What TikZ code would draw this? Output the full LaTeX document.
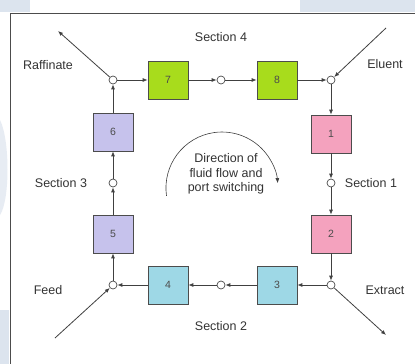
\documentclass[tikz,border=0pt]{standalone}
\usepackage{fontspec}
\setmainfont{Liberation Sans}
\usetikzlibrary{arrows.meta}
\definecolor{cgreen}{HTML}{A8DC1C}
\definecolor{cpink}{HTML}{F4A2BE}
\definecolor{cpurple}{HTML}{C6C2EC}
\definecolor{ccyan}{HTML}{9ED8E6}
\definecolor{wmark}{HTML}{DCE4EE}
\begin{document}
\begin{tikzpicture}[x=1pt,y=-1pt,
  colbox/.style={draw=black!70, line width=0.7pt, minimum width=40pt, minimum height=38pt, inner sep=0pt,
    font=\fontsize{10.5}{12}\selectfont, text=black!70},
  port/.style={circle, draw=black!70, line width=0.7pt, fill=white, inner sep=0pt, minimum size=8pt},
  flow/.style={-{Latex[length=5pt,width=4pt]}, draw=black!75, line width=0.8pt},
  lbl/.style={font=\fontsize{12.5}{14}\selectfont, text=black!80, inner sep=0pt}]
\useasboundingbox (0,0) rectangle (415,364);
\fill[white] (0,0) rectangle (415,364);
% watermark patches outside frame
\fill[wmark] (300,0) rectangle (415,12);
\fill[wmark] (0,0) rectangle (30,12);
\fill[wmark!70] (0,120) .. controls (10,140) and (10,200) .. (0,215) -- cycle;
\fill[wmark] (0,310) rectangle (9,364);
% frame
\draw[black!70, line width=1.3pt] (10.5,364) -- (10.5,13.5) -- (415,13.5);

% ports
\node[port] (pTL) at (113,80) {};
\node[port] (pT)  at (221,80) {};
\node[port] (pTR) at (331,80) {};
\node[port] (pL)  at (113,183) {};
\node[port] (pR)  at (331,183) {};
\node[port] (pBL) at (113,285) {};
\node[port] (pB)  at (221,285) {};
\node[port] (pBR) at (331,285) {};

% columns
\node[colbox, fill=cgreen]  (b7) at (168,80)  {7};
\node[colbox, fill=cgreen]  (b8) at (277,80)  {8};
\node[colbox, fill=cpink]   (b1) at (331,134) {1};
\node[colbox, fill=cpink]   (b2) at (331,234) {2};
\node[colbox, fill=ccyan]   (b3) at (277,285) {3};
\node[colbox, fill=ccyan]   (b4) at (168,285) {4};
\node[colbox, fill=cpurple] (b5) at (113,234) {5};
\node[colbox, fill=cpurple] (b6) at (113,132) {6};

% external ends
\coordinate (raf) at (58,31);
\coordinate (elu) at (386,28);
\coordinate (fee) at (55,338);
\coordinate (ext) at (386,335);

% loop flow
\draw[flow] (pTL) -- (b7);
\draw[flow] (b7) -- (pT);
\draw[flow] (pT) -- (b8);
\draw[flow] (b8) -- (pTR);
\draw[flow] (pTR) -- (b1);
\draw[flow] (b1) -- (pR);
\draw[flow] (pR) -- (b2);
\draw[flow] (b2) -- (pBR);
\draw[flow] (pBR) -- (b3);
\draw[flow] (b3) -- (pB);
\draw[flow] (pB) -- (b4);
\draw[flow] (b4) -- (pBL);
\draw[flow] (pBL) -- (b5);
\draw[flow] (b5) -- (pL);
\draw[flow] (pL) -- (b6);
\draw[flow] (b6) -- (pTL);

% inlets / outlets
\draw[flow] (pTL) -- (raf);
\draw[flow] (elu) -- (pTR);
\draw[flow] (fee) -- (pBL);
\draw[flow] (pBR) -- (ext);

% labels
\node[lbl] (s4) at (221,37) {Section 4};
\node[lbl] (s3) at (61,183) {Section 3};
\node[lbl] (s1) at (371,183) {Section 1};
\node[lbl] (s2) at (221,326) {Section 2};
\node[lbl] (lr) at (48,65) {Raffinate};
\node[lbl] (le) at (385,64) {Eluent};
\node[lbl] (lf) at (48,290) {Feed};
\node[lbl] (lx) at (385,290) {Extract};

% direction
\node[lbl, align=center, font=\fontsize{12.5}{14.5}\selectfont] (dir) at (226,174)
  {Direction of\\fluid flow and\\port switching};
\draw[flow, line width=0.6pt] (166.5,195.8) arc[start angle=172, end angle=355, radius=56];
\end{tikzpicture}
\end{document}
